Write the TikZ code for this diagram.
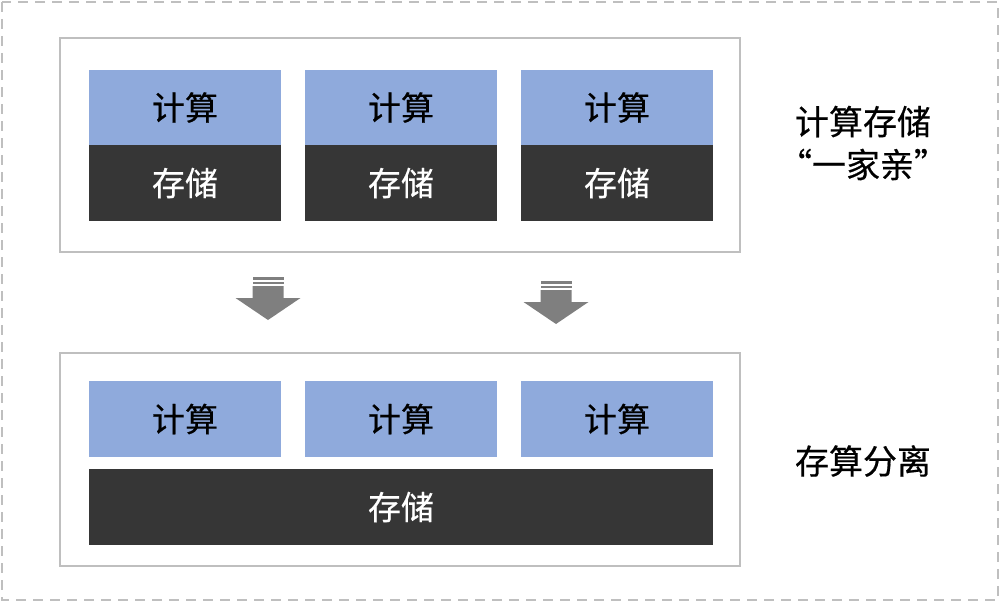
\documentclass[tikz,border=0pt]{standalone}
\usepackage{fontspec}
\setmainfont{Noto Sans CJK SC}[FakeBold=0.5]
\definecolor{calc}{HTML}{8FAADC}
\definecolor{stor}{HTML}{363636}
\definecolor{frame}{HTML}{BFBFBF}
\definecolor{arr}{HTML}{7F7F7F}
\begin{document}
\begin{tikzpicture}[x=1pt,y=-1pt,
  calcbox/.style={fill=calc,draw=none,minimum width=192pt,minimum height=76pt,inner sep=0pt,font=\fontsize{33}{36}\selectfont,text=black},
  storbox/.style={fill=stor,draw=none,minimum height=76pt,inner sep=0pt,font=\fontsize{33}{36}\selectfont,text=white},
  groupbox/.style={draw=frame,line width=2pt,fill=white},
  label/.style={font=\fontsize{34}{43}\selectfont,align=center,text=black},
  bigarrow/.style={fill=arr,draw=none}]
\useasboundingbox (0,0) rectangle (1000,602);
\draw[draw=frame,line width=2pt,dash pattern=on 10pt off 7pt] (2,2) rectangle (998,600);
% top group
\node[groupbox,minimum width=680pt,minimum height=214pt] (topgrp) at (400,145) {};
\foreach \i/\x in {1/185,2/401,3/617}{
  \node[calcbox] (tc\i) at (\x,107.5) {\raisebox{-1.5pt}{计算}};
  \node[storbox,minimum width=192pt] (ts\i) at (\x,183) {\raisebox{-1.5pt}{存储}};
}
\node[label] (toplabel) at (863,143) {计算存储\\“一家亲”};
% bottom group
\node[groupbox,minimum width=680pt,minimum height=213pt] (botgrp) at (400,459.5) {};
\foreach \i/\x in {1/185,2/401,3/617}{
  \node[calcbox] (bc\i) at (\x,419) {\raisebox{-1.5pt}{计算}};
}
\node[storbox,minimum width=624pt] (bs) at (401,507) {\raisebox{-1.5pt}{存储}};
\node[label] (botlabel) at (863,461) {存算分离};
% arrows
\foreach \cx/\ty in {268/277,556/281}{
  \fill[arr] (\cx-15.5,\ty) rectangle (\cx+15.5,\ty+2.5);
  \fill[arr] (\cx-15.5,\ty+4.5) rectangle (\cx+15.5,\ty+7);
  \fill[arr] (\cx-15.5,\ty+9) -- (\cx+15.5,\ty+9) -- (\cx+15.5,\ty+21) -- (\cx+32.5,\ty+21) -- (\cx,\ty+43) -- (\cx-32.5,\ty+21) -- (\cx-15.5,\ty+21) -- cycle;
}
\end{tikzpicture}
\end{document}
